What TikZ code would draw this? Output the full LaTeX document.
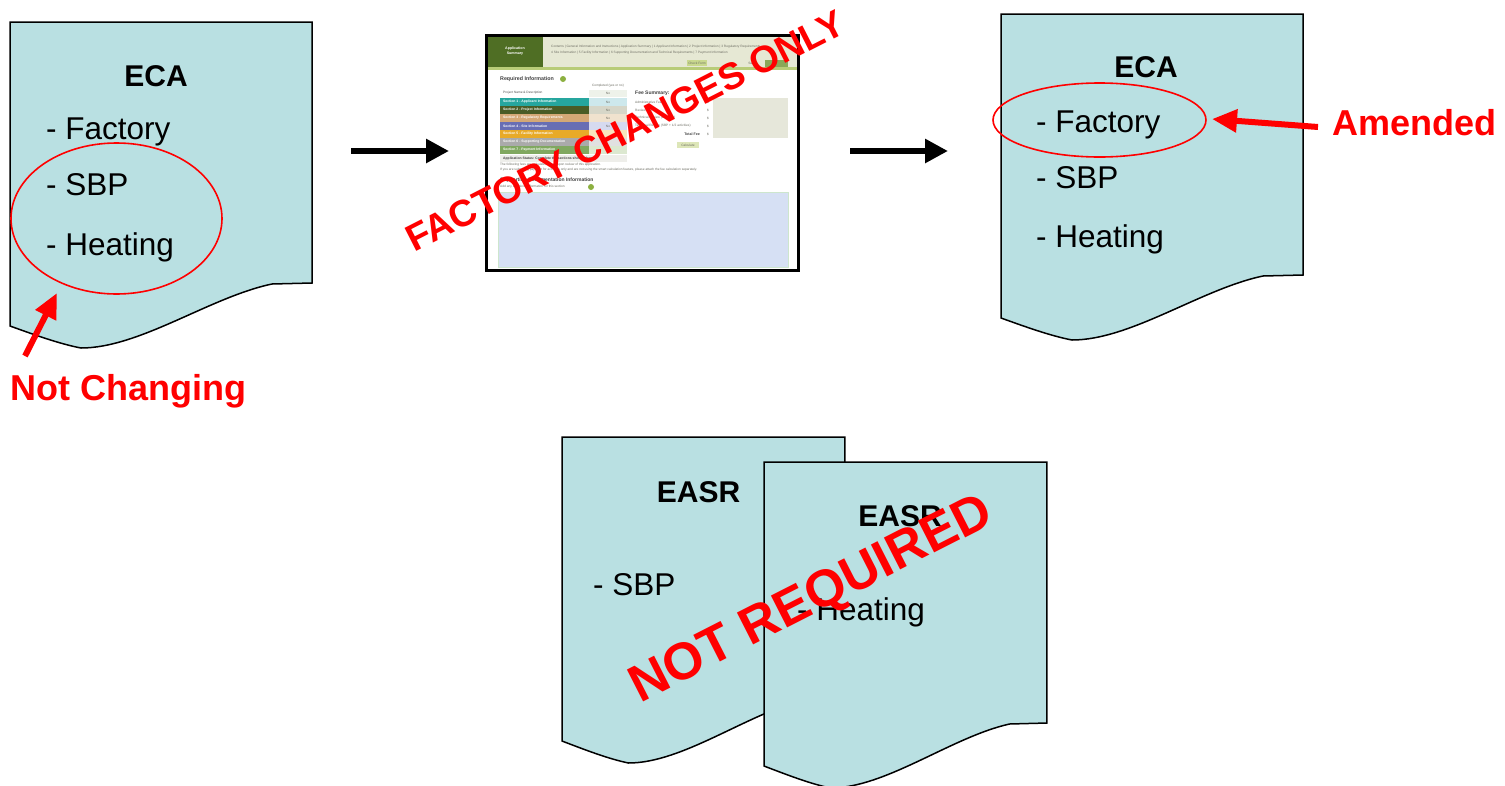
\documentclass[tikz,border=0pt]{standalone}
\usepackage{fontspec}
\setmainfont{Liberation Sans}
\usetikzlibrary{arrows.meta,shapes.geometric}
\definecolor{docfill}{RGB}{185,224,226}
\definecolor{ssgreen}{RGB}{79,110,36}
\definecolor{hdrbg}{RGB}{230,232,212}
\definecolor{ssband}{RGB}{184,204,120}
\definecolor{ssblue}{RGB}{214,224,244}
\definecolor{ssgray}{RGB}{230,231,218}
\definecolor{sstext}{RGB}{110,110,100}
\definecolor{btnA}{RGB}{201,216,142}
\definecolor{btnB}{RGB}{138,168,88}
\definecolor{icon}{RGB}{140,176,64}
\definecolor{cellNo}{RGB}{238,242,234}
\definecolor{statbg}{RGB}{238,238,234}
\definecolor{calcbg}{RGB}{221,230,184}
\definecolor{blueedge}{RGB}{205,230,205}
\definecolor{cA}{RGB}{38,166,158}\definecolor{lA}{RGB}{205,232,236}
\definecolor{cB}{RGB}{74,92,38}\definecolor{lB}{RGB}{214,214,200}
\definecolor{cC}{RGB}{212,168,118}\definecolor{lC}{RGB}{240,226,206}
\definecolor{cD}{RGB}{104,110,180}\definecolor{lD}{RGB}{214,218,240}
\definecolor{cE}{RGB}{232,170,40}\definecolor{lE}{RGB}{248,230,190}
\definecolor{cF}{RGB}{170,170,170}\definecolor{lF}{RGB}{225,225,225}
\definecolor{cG}{RGB}{128,168,96}\definecolor{lG}{RGB}{220,232,208}
\def\docoutline{(0,0) -- (302,0) -- (302,261) -- (262,262) .. controls (200,275) and (130,326) .. (71,326) .. controls (50,322) and (25,313) .. (0,304) -- cycle}
\tikzset{
  docshape/.style={draw=black, line width=1.5pt, fill=docfill},
  bodytxt/.style={font=\fontsize{31.5}{36}\selectfont, anchor=base west, inner sep=0pt},
  titletxt/.style={font=\fontsize{30}{36}\selectfont\bfseries, anchor=base, inner sep=0pt},
  redlbl/.style={font=\fontsize{36}{40}\selectfont\bfseries, text=red, anchor=base west, inner sep=0pt},
  oval/.style={ellipse, draw=red, line width=1.6pt, inner sep=0pt},
  redarrow/.style={draw=red, line width=6pt, -{Triangle[length=25pt,width=22pt]}},
  blkarrow/.style={draw=black, line width=6pt, -{Triangle[length=23pt,width=23pt]}},
  stamptxt/.style={text=red, rotate=27, inner sep=0pt},
  tiny/.style={font=\fontsize{3.2}{3.6}\selectfont, text=sstext, inner sep=0pt, anchor=west},
  tinyw/.style={font=\fontsize{3.4}{3.8}\selectfont\bfseries, text=white, inner sep=0pt, anchor=west},
  tinyc/.style={font=\fontsize{3.2}{3.6}\selectfont, text=sstext, inner sep=0pt},
}
\begin{document}
\begin{tikzpicture}[x=1pt,y=-1pt]
\useasboundingbox (0,0) rectangle (1505,785);

% ---------- left ECA document ----------
\begin{scope}[shift={(10,22)}]
  \path[docshape] \docoutline;
\end{scope}
\node[titletxt] (ecaL) at (156,86) {ECA};
\node[bodytxt] (facL) at (46,139) {- Factory};
\node[bodytxt] (sbpL) at (46,195) {- SBP};
\node[bodytxt] (heatL) at (46,255) {- Heating};
\node[oval, minimum width=211pt, minimum height=151pt] (ovalL) at (116.5,218.5) {};
\node[redlbl] (notch) at (10,400) {Not Changing};
\coordinate (ncTail) at (25,356);
\coordinate (ncTip) at (57,293);
\draw[redarrow] (ncTail) -- (ncTip);

% ---------- screenshot ----------
\fill[white] (486,35) rectangle (798,270);
\fill[hdrbg] (543,36) rectangle (797,67);
\fill[ssgreen] (487,36) rectangle (543,67);
\fill[ssband] (487,67) rectangle (797,70);
\node[font=\fontsize{3.6}{4.2}\selectfont\bfseries, text=white, align=center, inner sep=0pt] (ssTitle) at (515,51) {Application\\Summary};
\node[tiny] (ssH1) at (551,47) {Contents | General Information and Instructions | Application Summary | 1 Applicant Information | 2 Project Information | 3 Regulatory Requirements};
\node[tiny] (ssH2) at (551,53) {4 Site Information | 5 Facility Information | 6 Supporting Documentation and Technical Requirements | 7 Payment Information};
\fill[btnA] (687,60) rectangle (707,66);
\node[tinyc] (ssBtn1) at (697,63) {Check Form};
\node[tinyc] (ssBtn2) at (752,63) {Save};
\fill[btnB] (765,60) rectangle (788,67);
\node[font=\fontsize{5.3}{6}\selectfont\bfseries, text=black!75, inner sep=0pt, anchor=west] (ssReq) at (500,79) {Required Information};
\fill[icon] (563,79) circle (3pt);
\node[tinyc] (ssComp) at (608,86) {Completed (yes or no)};
\node[tiny, text=black!70] (ssProj) at (503,93) {Project Name \& Description};
\fill[cellNo] (589,90) rectangle (627,97);
\node[tinyc] (ssNo0) at (608,93.5) {No};
\foreach \c/\l/\t [count=\i from 0] in {
  cA/lA/Section 1 - Applicant Information,
  cB/lB/Section 2 - Project Information,
  cC/lC/Section 3 - Regulatory Requirements,
  cD/lD/Section 4 - Site Information,
  cE/lE/Section 5 - Facility Information,
  cF/lF/Section 6 - Supporting Documentation,
  cG/lG/Section 7 - Payment Information}{
  \fill[\c] (500,98+8*\i) rectangle (589,106+8*\i);
  \fill[\l] (589,98+8*\i) rectangle (627,106+8*\i);
  \node[tinyw] (ssSec\i) at (503,102+8*\i) {\t};
}
\foreach \i in {0,1,2,3}{\node[tinyc] (ssNoR\i) at (608,102+8*\i) {No};}
\fill[statbg] (500,155) rectangle (627,162);
\node[tiny, text=black!75, font=\fontsize{3.4}{3.8}\selectfont\bfseries] (ssStat) at (503,158.5) {Application Status: Complete the sections shown above};
\node[font=\fontsize{5}{6}\selectfont\bfseries, text=black!75, inner sep=0pt, anchor=west] (ssFee) at (635,93) {Fee Summary:};
\node[tiny] (ssF1) at (635,102) {Administrative Fee};
\node[tiny] (ssF2) at (635,110) {Review Fee};
\node[tiny] (ssF3) at (635,118) {Technical Review (activities)};
\node[tiny] (ssF4) at (635,126) {Technical Review (SBP + 1/2 activities)};
\node[tiny, anchor=east, text=black!75, font=\fontsize{3.6}{4}\selectfont\bfseries] (ssTot) at (700,134) {Total Fee};
\foreach \yy [count=\j] in {102,110,118,126,134}{\node[tinyc] (ssD\j) at (708,\yy) {\$};}
\fill[calcbg] (677,142) rectangle (699,148);
\node[tinyc] (ssCalc) at (688,145) {Calculate};
\fill[ssgray] (713,98) rectangle (788,138);
\node[tiny] (ssL1) at (500,165) {The following fees are calculated based upon review of this application.};
\node[tiny] (ssL2) at (500,170) {If you are submitting payment for activities only and are not using the smart calculation feature, please attach the fee calculation separately.};
\node[font=\fontsize{5}{6}\selectfont\bfseries, text=black!75, inner sep=0pt, anchor=west] (ssSup) at (500,180) {Supporting Documentation Information};
\node[tiny] (ssL3) at (500,187) {Add any additional information for this section};
\fill[icon] (591,187) circle (3pt);
\filldraw[fill=ssblue, draw=blueedge, line width=1pt] (498,192) rectangle (788,267);
\draw[line width=3pt] (486,35) rectangle (798,270);

% ---------- black arrows ----------
\coordinate (a1s) at (351,151); \coordinate (a1e) at (449,151);
\coordinate (a2s) at (850,151); \coordinate (a2e) at (948,151);
\draw[blkarrow] (a1s) -- (a1e);
\draw[blkarrow] (a2s) -- (a2e);

\node[stamptxt, font=\fontsize{37.5}{40}\selectfont\bfseries] (fco) at (625,131) {FACTORY CHANGES ONLY};

% ---------- right ECA document ----------
\begin{scope}[shift={(1001,14)}]
  \path[docshape] \docoutline;
\end{scope}
\node[titletxt] (ecaR) at (1146,77) {ECA};
\node[bodytxt] (facR) at (1036,132) {- Factory};
\node[bodytxt] (sbpR) at (1036,188) {- SBP};
\node[bodytxt] (heatR) at (1036,247) {- Heating};
\node[oval, minimum width=213pt, minimum height=74pt] (ovalR) at (1099.5,120) {};
\node[redlbl] (amend) at (1332,135) {Amended};
\coordinate (amTail) at (1318,127);
\coordinate (amTip) at (1212,119);
\draw[redarrow] (amTail) -- (amTip);

% ---------- EASR documents ----------
\begin{scope}[shift={(562,437)}, xscale=0.937]
  \path[docshape] \docoutline;
\end{scope}
\node[titletxt] (easrA) at (698.5,502) {EASR};
\node[bodytxt] (sbpE) at (593,595) {- SBP};
\begin{scope}[shift={(764,462)}, xscale=0.937]
  \path[docshape] \docoutline;
\end{scope}
\node[titletxt] (easrB) at (900,526) {EASR};
\node[bodytxt] (heatE) at (797,620) {- Heating};

\node[stamptxt, font=\fontsize{52}{56}\selectfont\bfseries] (nreq) at (812,601) {NOT REQUIRED};
\end{tikzpicture}
\end{document}
